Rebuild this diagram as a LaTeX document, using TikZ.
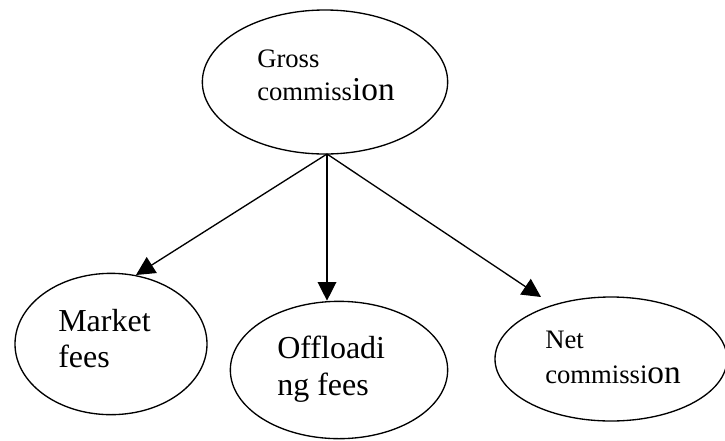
\documentclass[tikz,border=0pt]{standalone}
\usepackage{fontspec}
\setmainfont{Liberation Serif}
\usetikzlibrary{arrows.meta,positioning,shapes.geometric}

\tikzset{
  oval/.style={ellipse,draw,line width=1pt,inner sep=0pt},
  txt/.style={anchor=base west,align=left,inner sep=0pt},
  small/.style={font=\fontsize{20}{24}\selectfont},
  big/.style={font=\fontsize{24}{28}\selectfont},
  flow/.style={line width=1pt,-{Triangle[length=14pt,width=14pt]}}
}
\newcommand{\tallpart}[1]{{\fontsize{25}{28}\selectfont #1}}

\begin{document}
\begin{tikzpicture}[x=0.75pt,y=-0.75pt]
\useasboundingbox (0,0) rectangle (725,440);
% ovals
\node[oval,minimum width=184pt,minimum height=108pt] (gross) at (325,82) {};
\node[oval,minimum width=144pt,minimum height=106pt] (market) at (111,344) {};
\node[oval,minimum width=163pt,minimum height=103pt] (offload) at (339,370) {};
\node[oval,minimum width=174pt,minimum height=93pt] (net) at (611,359) {};
% texts
\node[txt,small] (grossA) at (257,67) {Gross};
\node[txt,small] (grossB) at (257,100) {commiss\tallpart{ion}};
\node[txt,big] (marketA) at (58,331) {Market};
\node[txt,big] (marketB) at (58,367) {fees};
\node[txt,big] (offloadA) at (277,358) {Offloadi};
\node[txt,big] (offloadB) at (277,395) {ng fees};
\node[txt,small] (netA) at (545,348) {Net};
\node[txt,small] (netB) at (545,383) {commissi\tallpart{on}};
% arrows
\coordinate (fork) at (327,154);
\coordinate (marketTip) at (136,275);
\coordinate (netTip) at (541,297);
\draw[flow] (fork) -- (marketTip);
\draw[flow] (fork) -- (fork |- offload.north);
\draw[flow] (fork) -- (netTip);
\end{tikzpicture}
\end{document}
